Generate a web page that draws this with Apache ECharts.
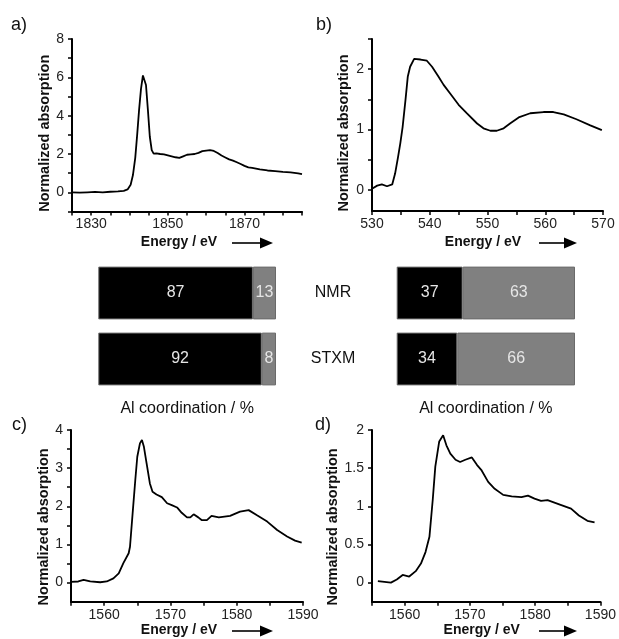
<!DOCTYPE html>
<html>
<head>
<meta charset="utf-8">
<script src="https://cdn.jsdelivr.net/npm/echarts@6/dist/echarts.min.js"></script>
<style>
html, body { margin: 0; padding: 0; background: #fff; }
#chart { width: 619px; height: 639px; }
</style>
</head>
<body>
<div id="chart"></div>
<script>
// ---- Al K-edge spectrum (a) ----
const energyA = [1825, 1827, 1829, 1831, 1833, 1835, 1837, 1838.5, 1839.5, 1840.3, 1840.9, 1841.5, 1842.0, 1842.5, 1843.0, 1843.5, 1843.9, 1844.3, 1844.8, 1845.3, 1845.8, 1846.3, 1847, 1848, 1849, 1850, 1851, 1852, 1853, 1854, 1855, 1856, 1857, 1858, 1859, 1860, 1861, 1862, 1863, 1864, 1865, 1866, 1867, 1868, 1869, 1870, 1871, 1872, 1874, 1876, 1878, 1880, 1882, 1884, 1885];
const absA = [0.0, -0.02, 0.0, 0.02, 0.0, 0.03, 0.05, 0.08, 0.15, 0.4, 0.9, 1.8, 3.0, 4.3, 5.4, 6.1, 6.2, 5.6, 4.3, 2.9, 2.2, 2.02, 2.03, 2.0, 1.98, 1.93, 1.88, 1.83, 1.8, 1.88, 1.96, 1.98, 2.0, 2.06, 2.15, 2.18, 2.2, 2.16, 2.05, 1.92, 1.82, 1.72, 1.65, 1.57, 1.48, 1.38, 1.3, 1.28, 1.2, 1.14, 1.11, 1.07, 1.04, 0.99, 0.95];

// ---- O K-edge spectrum (b) ----
const energyB = [530, 530.9, 531.7, 532.6, 533.5, 534.0, 534.5, 534.9, 535.3, 535.8, 536.2, 536.6, 537.3, 538.4, 539.5, 540.4, 541.5, 542.4, 543.5, 545.0, 546.4, 548.2, 549.3, 550.5, 551.6, 552.8, 553.9, 555.4, 557.4, 559.7, 561.4, 563.2, 565.4, 567.8, 569.8];
const absB = [0.02, 0.07, 0.09, 0.06, 0.09, 0.27, 0.54, 0.77, 1.04, 1.49, 1.88, 2.04, 2.17, 2.16, 2.14, 2.04, 1.88, 1.74, 1.60, 1.41, 1.27, 1.10, 1.02, 0.98, 0.98, 1.02, 1.10, 1.20, 1.27, 1.29, 1.29, 1.25, 1.17, 1.07, 0.99];

// ---- Al K-edge, sample c ----
const energyC = [1555, 1556.1, 1556.9, 1557.9, 1559.4, 1560.4, 1561.4, 1562.2, 1562.9, 1563.7, 1563.9, 1564.3, 1564.7, 1565.0, 1565.4, 1565.7, 1566.0, 1566.4, 1566.9, 1567.3, 1567.9, 1568.7, 1569.5, 1570.2, 1571.0, 1571.7, 1572.5, 1573.0, 1573.5, 1574.2, 1574.7, 1575.5, 1576.2, 1577.3, 1579.0, 1580.5, 1581.8, 1583.0, 1584.6, 1586.1, 1587.6, 1588.8, 1589.8];
const absC = [0.02, 0.03, 0.07, 0.03, 0.01, 0.03, 0.11, 0.24, 0.51, 0.77, 0.94, 1.82, 2.69, 3.30, 3.65, 3.74, 3.56, 3.13, 2.60, 2.38, 2.31, 2.24, 2.08, 2.03, 1.97, 1.83, 1.71, 1.71, 1.79, 1.71, 1.64, 1.64, 1.75, 1.71, 1.75, 1.86, 1.90, 1.77, 1.60, 1.38, 1.21, 1.10, 1.05];

// ---- Al K-edge, sample d ----
const energyD = [1555.9, 1556.9, 1557.9, 1558.8, 1559.7, 1560.7, 1561.7, 1562.5, 1563.2, 1563.8, 1564.3, 1564.7, 1565.3, 1565.9, 1566.4, 1567.0, 1567.8, 1568.5, 1569.3, 1570.3, 1571.1, 1571.8, 1572.8, 1573.8, 1575.1, 1576.4, 1577.9, 1578.9, 1579.9, 1580.9, 1581.9, 1583.9, 1585.5, 1586.7, 1588.0, 1589.1];
const absD = [0.02, 0.01, 0.0, 0.04, 0.10, 0.08, 0.15, 0.25, 0.40, 0.60, 1.08, 1.52, 1.85, 1.93, 1.80, 1.69, 1.61, 1.58, 1.61, 1.64, 1.54, 1.47, 1.32, 1.23, 1.15, 1.13, 1.12, 1.14, 1.10, 1.07, 1.08, 1.02, 0.97, 0.88, 0.81, 0.79];

// ---- Al coordination (%) ----
const methods = ['NMR', 'STXM'];
const tetraLeft = [87, 92];
const octaLeft = [13, 8];
const tetraRight = [37, 34];
const octaRight = [63, 66];

// ---- tick values ----
const xLabelsA = [1830, 1850, 1870];
const xTicksA = [1825, 1830, 1835, 1840, 1845, 1850, 1855, 1860, 1865, 1870, 1875, 1880, 1885];
const yLabelsA = [0, 2, 4, 6, 8];
const yTicksA = [-1, 0, 1, 2, 3, 4, 5, 6, 7, 8];
const xLabelsB = [530, 540, 550, 560, 570];
const xTicksB = [530, 535, 540, 545, 550, 555, 560, 565, 570];
const yLabelsB = [0, 1, 2];
const yTicksB = [0, 0.5, 1, 1.5, 2, 2.5];
const xLabelsCD = [1560, 1570, 1580, 1590];
const xTicksCD = [1555, 1560, 1565, 1570, 1575, 1580, 1585, 1590];
const yLabelsC = [0, 1, 2, 3, 4];
const yTicksC = [0, 0.5, 1, 1.5, 2, 2.5, 3, 3.5, 4];
const yLabelsD = [0, 0.5, 1, 1.5, 2];
const yTicksD = [0, 0.5, 1, 1.5, 2];

const FONT = '"Liberation Sans", Arial, Helvetica, sans-serif';
const INK = '#111';
const plain = v => String(v);

function zip(xs, ys) { return xs.map((x, i) => [x, ys[i]]); }

function specX(idx, min, max, labels, ticks, gap, shift) {
  return {
    gridIndex: idx, type: 'value', min: min, max: max,
    name: 'Energy / eV', nameLocation: 'middle', nameGap: gap,
    nameTextStyle: { fontFamily: FONT, fontWeight: 'bold', fontSize: 14, color: INK, padding: [0, shift * 2, 0, 0] },
    axisLine: { show: true, onZero: false, lineStyle: { color: '#000', width: 2 } },
    axisTick: { show: true, length: 4, inside: false, customValues: ticks, lineStyle: { color: '#000', width: 1.5 } },
    axisLabel: { show: true, customValues: labels, formatter: plain, margin: 6, fontFamily: FONT, fontSize: 14, color: '#222', showMinLabel: true, showMaxLabel: true },
    splitLine: { show: false }
  };
}

function specY(idx, min, max, labels, ticks, gap, shift) {
  return {
    gridIndex: idx, type: 'value', min: min, max: max,
    name: 'Normalized absorption', nameLocation: 'middle', nameRotate: 90, nameGap: gap,
    nameTextStyle: { fontFamily: FONT, fontWeight: 'bold', fontSize: 14.5, color: INK, padding: [0, shift * 2, 0, 0] },
    axisLine: { show: true, onZero: false, lineStyle: { color: '#000', width: 2 } },
    axisTick: { show: true, length: 4, inside: false, customValues: ticks, lineStyle: { color: '#000', width: 1.5 } },
    axisLabel: { show: true, customValues: labels, formatter: plain, margin: 8, fontFamily: FONT, fontSize: 14, color: '#222' },
    splitLine: { show: false }
  };
}

function barX(idx) {
  return {
    gridIndex: idx, type: 'value', min: 0, max: 100,
    name: 'Al coordination / %', nameLocation: 'middle', nameGap: 9,
    nameTextStyle: { fontFamily: FONT, fontSize: 16, color: INK },
    axisLine: { show: false }, axisTick: { show: false }, axisLabel: { show: false }, splitLine: { show: false }
  };
}

function barY(idx, withLabels) {
  return {
    gridIndex: idx, type: 'category', data: methods, inverse: true,
    position: 'right',
    axisLine: { show: false }, axisTick: { show: false }, splitLine: { show: false },
    axisLabel: { show: withLabels, margin: 57, align: 'center', fontFamily: FONT, fontSize: 16, color: INK }
  };
}

function lineSeries(idx, xs, ys) {
  return {
    type: 'line', xAxisIndex: idx, yAxisIndex: idx, data: zip(xs, ys),
    showSymbol: false, symbol: 'none', silent: true,
    lineStyle: { color: '#000', width: 1.8 }
  };
}

function barSeries(idx, values, color, stack) {
  return {
    type: 'bar', xAxisIndex: idx, yAxisIndex: idx, stack: stack, data: values,
    barWidth: 52.8, silent: true,
    itemStyle: { color: color, borderColor: '#6a6a6a', borderWidth: 1 },
    label: { show: true, position: 'inside', fontFamily: FONT, fontSize: 16, color: '#e6e6e6' }
  };
}

// Decorative energy arrows next to the x-axis names
function arrow(x0, x1, y) {
  return {
    type: 'group', silent: true,
    children: [
      { type: 'line', shape: { x1: x0, y1: y, x2: x1 - 10, y2: y }, style: { stroke: '#000', lineWidth: 1.6 } },
      { type: 'polygon', shape: { points: [[x1 - 13, y - 5.5], [x1, y], [x1 - 13, y + 5.5]] }, style: { fill: '#000' } }
    ]
  };
}

function panelLetter(text, x, y) {
  return { type: 'text', x: x, y: y, silent: true,
    style: { text: text, fontFamily: FONT, fontSize: 18, fill: INK, textVerticalAlign: 'middle' } };
}

const option = {
  animation: false,
  backgroundColor: '#fff',
  grid: [
    { left: 72, top: 39, width: 230, height: 172.5 },
    { left: 372, top: 39, width: 231, height: 172 },
    { left: 71, top: 430, width: 232, height: 171.7 },
    { left: 372, top: 430, width: 231, height: 171.7 },
    { left: 98.3, top: 260, width: 177.7, height: 132 },
    { left: 396.7, top: 260, width: 178.3, height: 132 }
  ],
  xAxis: [
    specX(0, 1825, 1885, xLabelsA, xTicksA, 24, 8),
    specX(1, 530, 570, xLabelsB, xTicksB, 24, 4.5),
    specX(2, 1555, 1590, xLabelsCD, xTicksCD, 21, 8),
    specX(3, 1555, 1590, xLabelsCD, xTicksCD, 21, 4.5),
    barX(4),
    barX(5)
  ],
  yAxis: [
    specY(0, -1, 8, yLabelsA, yTicksA, 16, 8),
    specY(1, -0.35, 2.5, yLabelsB, yTicksB, 21, 8),
    specY(2, -0.5, 4, yLabelsC, yTicksC, 15, 11),
    specY(3, -0.25, 2, yLabelsD, yTicksD, 24, 11),
    barY(4, true),
    barY(5, false)
  ],
  series: [
    lineSeries(0, energyA, absA),
    lineSeries(1, energyB, absB),
    lineSeries(2, energyC, absC),
    lineSeries(3, energyD, absD),
    barSeries(4, tetraLeft, '#000', 'left'),
    barSeries(4, octaLeft, '#808080', 'left'),
    barSeries(5, tetraRight, '#000', 'right'),
    barSeries(5, octaRight, '#808080', 'right')
  ],
  graphic: [
    panelLetter('a)', 11, 25),
    panelLetter('b)', 316, 25),
    panelLetter('c)', 12, 425),
    panelLetter('d)', 315, 425),
    arrow(232, 273, 243),
    arrow(539, 577, 243),
    arrow(232, 273, 631),
    arrow(539, 577, 631)
  ]
};

const chart = echarts.init(document.getElementById('chart'), null, { renderer: 'canvas' });
chart.setOption(option);
</script>
</body>
</html>
